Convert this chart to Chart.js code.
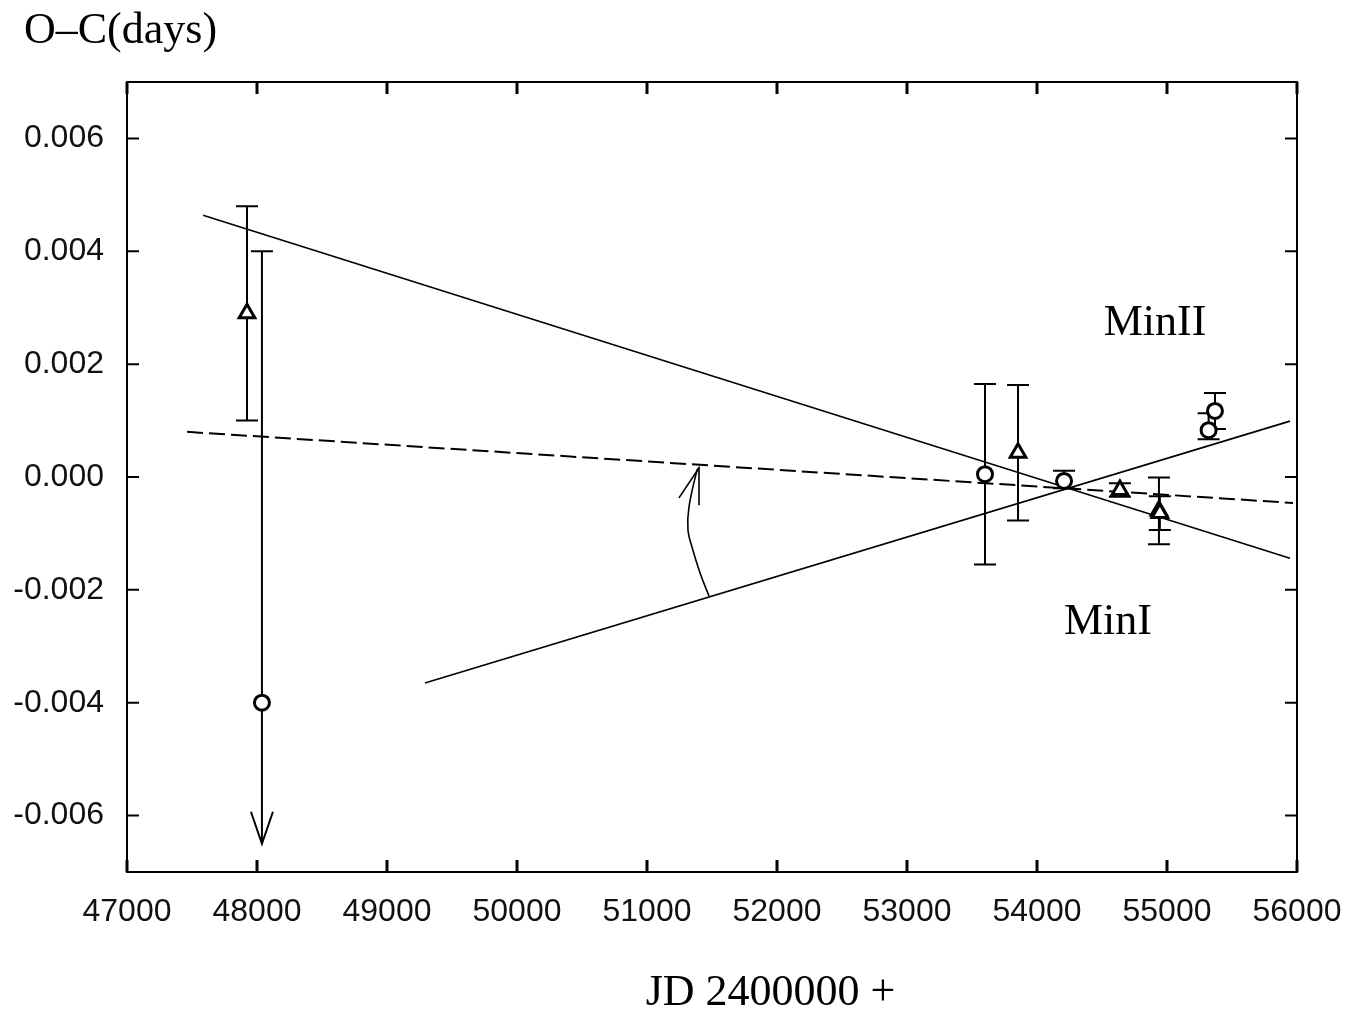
<!DOCTYPE html>
<html>
<head>
<meta charset="utf-8">
<script src="https://cdn.jsdelivr.net/npm/chart.js@4"></script>
<style>
  html, body { margin: 0; padding: 0; background: #fff; }
  #wrap { width: 1351px; height: 1011px; }
</style>
</head>
<body>
<div id="wrap"><canvas id="ocChart"></canvas></div>
<script>
const xTicks = [47000, 48000, 49000, 50000, 51000, 52000, 53000, 54000, 55000, 56000];
const yTicks = [-0.006, -0.004, -0.002, 0, 0.002, 0.004, 0.006];

// primary minima (open circles)
const minIJD = [48038, 53600, 54208, 55320, 55369];
const minIOC = [-0.0040, 0.00005, -0.00007, 0.00083, 0.00117];
const minIErrUp = [0.0080, 0.0016, 0.00018, 0.0003, 0.00032];
const minIErrDown = [0.0025, 0.0016, 0.00013, 0.00016, 0.00032];
const minILimit = [true, false, false, false, false];

// secondary minima (open triangles)
const minIIJD = [47923, 53854, 54638, 54938, 54945];
const minIIOC = [0.0029, 0.00043, -0.00023, -0.0006, -0.00064];
const minIIErrUp = [0.0019, 0.0012, 0.00012, 0.00059, 0.0003];
const minIIErrDown = [0.0019, 0.0012, 0.00012, 0.00059, 0.0003];

// fitted lines
const minIILineJD = [47585, 55946];
const minIILineOC = [0.00464, -0.00144];
const minILineJD = [49292, 55946];
const minILineOC = [-0.00365, 0.00099];
const meanLineJD = [47462, 55969];
const meanLineOC = [0.0008, -0.00046];

// curved arrow between MinI line and mean line
const arcJD = [51477, 51408, 51346, 51315, 51323, 51385, 51400];
const arcOC = [-0.00211, -0.0017, -0.00124, -0.00094, -0.00053, 0.00012, 0.00016];
const headJD = [51246, 51400, 51400];
const headOC = [-0.00037, 0.00016, -0.0005];

const labelText = ["MinII", "MinI"];
const labelJD = [54908, 54546];
const labelOC = [0.00273, -0.00257];

const pts = (xs, ys) => xs.map((x, i) => ({ x: x, y: ys[i] }));

const serif = "'Liberation Serif', 'DejaVu Serif', serif";
const sans = "'Liberation Sans', Arial, sans-serif";

const extras = {
  id: "extras",
  beforeDatasetsDraw(chart) {
    const { ctx } = chart;
    const xs = chart.scales.x, ys = chart.scales.y;
    ctx.save();
    ctx.strokeStyle = "#000";
    ctx.lineWidth = 2;
    const bars = (jd, oc, up, down, limit) => {
      jd.forEach((x, i) => {
        const px = xs.getPixelForValue(x);
        const top = ys.getPixelForValue(oc[i] + up[i]);
        const bot = ys.getPixelForValue(oc[i] - down[i]);
        ctx.beginPath();
        ctx.moveTo(px, top);
        ctx.lineTo(px, bot);
        ctx.moveTo(px - 11, top);
        ctx.lineTo(px + 11, top);
        if (limit && limit[i]) {
          ctx.moveTo(px - 11, bot - 32);
          ctx.lineTo(px, bot);
          ctx.lineTo(px + 11, bot - 32);
        } else {
          ctx.moveTo(px - 11, bot);
          ctx.lineTo(px + 11, bot);
        }
        ctx.stroke();
      });
    };
    bars(minIJD, minIOC, minIErrUp, minIErrDown, minILimit);
    bars(minIIJD, minIIOC, minIIErrUp, minIIErrDown, null);
    ctx.restore();
  },
  afterDraw(chart) {
    const { ctx, chartArea: a } = chart;
    const xs = chart.scales.x, ys = chart.scales.y;
    ctx.save();
    ctx.strokeStyle = "#000";
    ctx.lineWidth = 2;
    ctx.strokeRect(a.left, a.top, a.right - a.left, a.bottom - a.top);
    ctx.lineWidth = 3;
    xTicks.forEach((v) => {
      const px = xs.getPixelForValue(v);
      ctx.beginPath();
      ctx.moveTo(px, a.bottom);
      ctx.lineTo(px, a.bottom - 12);
      ctx.moveTo(px, a.top);
      ctx.lineTo(px, a.top + 12);
      ctx.stroke();
    });
    ctx.lineWidth = 2;
    yTicks.forEach((v) => {
      const py = ys.getPixelForValue(v);
      ctx.beginPath();
      ctx.moveTo(a.left, py);
      ctx.lineTo(a.left + 12, py);
      ctx.moveTo(a.right, py);
      ctx.lineTo(a.right - 12, py);
      ctx.stroke();
    });
    ctx.fillStyle = "#000";
    ctx.font = "44px " + serif;
    ctx.textAlign = "center";
    ctx.textBaseline = "middle";
    labelText.forEach((t, i) => {
      ctx.fillText(t, xs.getPixelForValue(labelJD[i]), ys.getPixelForValue(labelOC[i]));
    });
    ctx.fillText("JD 2400000 +", a.left + 0.55 * (a.right - a.left), 993);
    ctx.textAlign = "left";
    ctx.fillText("O\u2013C(days)", 24, 31);
    ctx.restore();
  },
};

const lineStyle = { showLine: true, pointRadius: 0, borderColor: "#000", borderWidth: 1.6, fill: false };

new Chart(document.getElementById("ocChart"), {
  type: "scatter",
  plugins: [extras],
  data: {
    datasets: [
      {
        label: "MinI",
        data: pts(minIJD, minIOC),
        pointStyle: "circle",
        pointRadius: 7.5,
        borderWidth: 3,
        borderColor: "#000",
        backgroundColor: "#fff",
      },
      {
        label: "MinII",
        data: pts(minIIJD, minIIOC),
        pointStyle: "triangle",
        pointRadius: 9,
        borderWidth: 3,
        borderColor: "#000",
        backgroundColor: "#fff",
      },
      { label: "MinII fit", data: pts(minIILineJD, minIILineOC), ...lineStyle },
      { label: "MinI fit", data: pts(minILineJD, minILineOC), ...lineStyle },
      { label: "mean", data: pts(meanLineJD, meanLineOC), ...lineStyle, borderWidth: 2, borderDash: [16, 6] },
      { label: "arc", data: pts(arcJD, arcOC), ...lineStyle, tension: 0.4 },
      { label: "head", data: pts(headJD, headOC), ...lineStyle },
    ],
  },
  options: {
    responsive: true,
    maintainAspectRatio: false,
    animation: false,
    layout: {
      padding: { left: 0, right: 54, top: 82, bottom: 0 },
    },
    plugins: {
      legend: { display: false },
      tooltip: { enabled: false },
      title: { display: false },
    },
    scales: {
      x: {
        type: "linear",
        min: 47000,
        max: 56000,
        afterBuildTicks: (s) => { s.ticks = xTicks.map((v) => ({ value: v })); },
        afterFit: (s) => { s.height = 139; s.paddingLeft = 0; s.paddingRight = 0; },
        grid: { display: false, drawTicks: false },
        border: { display: false },
        ticks: {
          color: "#111",
          padding: 21,
          maxRotation: 0,
          font: { family: sans, size: 32 },
          callback: (v) => String(v),
        },
      },
      y: {
        type: "linear",
        min: -0.007,
        max: 0.007,
        afterBuildTicks: (s) => { s.ticks = yTicks.map((v) => ({ value: v })); },
        afterFit: (s) => { s.width = 127; s.paddingTop = 0; s.paddingBottom = 0; },
        grid: { display: false, drawTicks: false },
        border: { display: false },
        ticks: {
          color: "#111",
          padding: 23,
          font: { family: sans, size: 32 },
          callback: (v) => Number(v).toFixed(3),
        },
      },
    },
  },
});
</script>
</body>
</html>
